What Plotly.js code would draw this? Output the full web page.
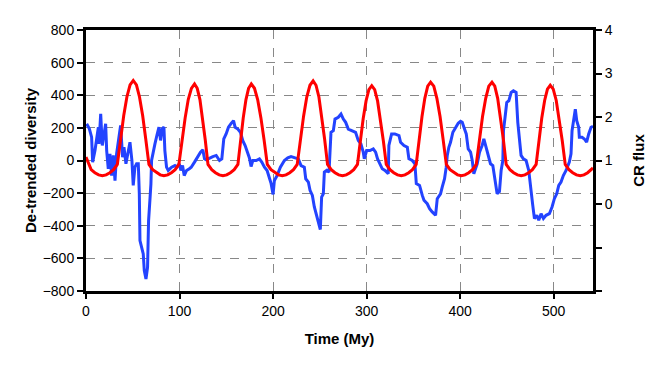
<!DOCTYPE html>
<html>
<head>
<meta charset="utf-8">
<script src="https://cdn.plot.ly/plotly-3.0.1.min.js"></script>
<style>
  body { margin: 0; background: #fff; }
  #chart { width: 664px; height: 369px; }
</style>
</head>
<body>
<div id="chart"></div>
<script>
// de-trended diversity (left axis)
var divTime = [0.7, 3.6, 6.0, 7.1, 9.6, 11.4, 13.2, 13.9, 15.7, 17.4, 19.2, 21.0, 22.1, 23.8, 25.6, 27.4, 29.2, 31.0, 32.7, 35.2,
  37.0, 39.1, 40.6, 42.7, 44.5, 47.0, 49.1, 50.5, 52.3, 54.1, 55.9, 57.0, 57.7, 59.4, 61.2, 62.3, 64.1, 65.8, 66.9, 68.3,
  69.4, 70.1, 71.9, 73.7, 76.2, 78.0, 79.7, 81.5, 83.3, 84.3, 86.1, 87.9, 91.5, 95.0, 96.8, 99.7, 101.4, 103.2, 105.0, 107.5,
  110.5, 112.5, 116.0, 119.6, 122.4, 124.9, 126.7, 128.5, 132.0, 135.6, 139.2, 142.7, 145.2, 147.3, 149.8, 152.3, 155.2, 157.7, 159.4, 162.3,
  165.1, 167.6, 170.1, 172.3, 174.7, 176.5, 178.3, 181.9, 185.4, 187.9, 190.8, 193.6, 196.1, 197.9, 200.0, 201.4, 204.3, 207.8, 212.1, 215.7,
  219.2, 222.1, 227.0, 229.9, 233.4, 234.9, 237.7, 239.5, 242.0, 244.1, 246.6, 249.1, 250.5, 251.9, 253.7, 254.8, 257.3, 259.8, 260.8, 261.9,
  264.4, 266.2, 269.7, 272.6, 275.1, 277.6, 280.4, 284.0, 288.2, 291.1, 293.9, 296.4, 297.5, 300.0, 303.5, 307.1, 309.6, 311.7, 314.2, 316.7,
  319.6, 323.1, 323.8, 326.7, 330.2, 334.6, 336.3, 339.9, 343.5, 345.2, 348.8, 351.6, 353.1, 356.6, 359.5, 361.3, 364.8, 367.3, 370.1, 373.7,
  375.5, 379.0, 380.8, 383.3, 385.1, 386.2, 387.9, 389.7, 392.2, 395.1, 397.9, 400.4, 402.2, 404.0, 406.5, 408.6, 411.1, 412.9, 414.6, 416.4,
  418.2, 420.7, 423.5, 425.3, 427.8, 429.9, 432.4, 434.9, 437.8, 439.5, 442.0, 443.8, 445.6, 446.3, 448.4, 449.8, 452.0, 454.5, 456.9, 459.8,
  461.6, 463.4, 465.1, 467.6, 470.5, 473.3, 475.8, 477.6, 479.4, 481.9, 484.0, 486.5, 489.0, 491.8, 495.4, 498.2, 500.7, 503.2, 505.4, 507.8,
  510.3, 513.2, 516.7, 518.5, 519.6, 522.1, 523.1, 524.6, 526.7, 527.4, 530.3, 532.8, 535.2, 537.4, 539.9, 542.0];
var diversity = [225, 194, 143, -10, 61, 143, 204, 102, 286, 92, 164, 225, 61, -51, 41, -92, 31, -123, 41, 133,
  215, 20, 82, -20, 41, 112, 0, -153, -41, -20, -20, -205, -491, -532, -573, -675, -726, -655, -368, -245,
  -143, 0, 61, 102, 164, 205, 123, 194, 205, 61, -41, -61, -41, -31, -41, -20, -61, -31, -92, -61,
  -50, -41, -10, 24, 51, 65, 10, 4, 16, 24, 31, 0, 10, 132, 163, 204, 228, 244, 204, 193,
  173, 122, 92, 51, 16, -37, 0, 0, 10, -10, -41, -61, -112, -142, -208, -122, -92, -41, 0, 16,
  24, 20, 10, -31, -41, -112, -132, -183, -214, -285, -346, -387, -423, -224, -204, -71, -61, -71, 41, 173,
  183, 254, 265, 285, 254, 234, 193, 183, 173, 122, 102, 51, 10, 61, 61, 71, 51, 10, -20, -51,
  -61, -81, 92, 163, 163, 153, 112, 92, 81, 10, 0, -20, -142, -153, -214, -244, -265, -295, -315, -336,
  -234, -204, -163, -112, -41, 31, 81, 112, 173, 204, 228, 240, 234, 204, 163, 71, 51, 0, -81, -51,
  -20, 51, 92, 132, 81, 41, -20, -31, -142, -204, -190, -61, 0, 183, 285, 356, 366, 417, 427, 417,
  234, 142, 31, 10, 0, -61, -204, -275, -356, -336, -366, -326, -356, -336, -326, -285, -234, -204, -153, -132,
  -92, -61, -10, 41, 183, 265, 315, 244, 204, 142, 142, 132, 112, 163, 204, 210];

// cosmic ray flux (right axis)
var crTime = [0, 2.5, 5.5, 9.5, 13.5, 17.5, 21.5, 25.5, 29.5,
  33.5, 36.9, 40.3, 43.7, 47.1, 50.5, 53.9, 57.2, 60.6, 63.9,
  67.3, 71.3, 75.3, 79.3, 83.3, 87.3, 91.3, 95.3,
  99.3, 102.6, 106.0, 109.3, 112.7, 116.0, 118.9, 121.8, 124.6, 127.5,
  130.4, 134.4, 138.4, 142.4, 146.4, 150.4, 154.4, 158.4,
  162.4, 165.3, 168.1, 171.0, 173.8, 176.7, 180.1, 183.5, 187.0, 190.4,
  193.8, 197.8, 201.8, 205.8, 209.8, 213.8, 217.8, 221.8,
  225.8, 229.2, 232.6, 236.0, 239.4, 242.8, 245.9, 249.0, 252.0, 255.1,
  258.2, 262.2, 266.2, 270.2, 274.2, 278.2, 282.2, 286.2,
  290.2, 293.3, 296.3, 299.4, 302.4, 305.5, 308.6, 311.7, 314.8, 317.9,
  321.0, 325.0, 329.0, 333.0, 337.0, 341.0, 345.0, 349.0,
  353.0, 356.1, 359.2, 362.2, 365.3, 368.4, 371.8, 375.1, 378.5, 381.8,
  385.2, 389.2, 393.2, 397.2, 401.2, 405.2, 409.2, 413.2,
  417.2, 420.6, 423.9, 427.3, 430.6, 434.0, 437.0, 440.1, 443.1, 446.2,
  449.2, 453.2, 457.2, 461.2, 465.2, 469.2, 473.2, 477.2,
  481.2, 484.2, 487.2, 490.3, 493.3, 496.3, 499.5, 502.7, 505.9, 509.1,
  512.3, 516.3, 520.3, 524.3, 528.3, 532.3, 536.3, 540.3, 542.0];
var crFlux = [1.08, 0.93, 0.79, 0.72, 0.67, 0.65, 0.67, 0.72, 0.79,
  0.91, 1.49, 2.03, 2.46, 2.74, 2.84, 2.74, 2.46, 2.03, 1.49,
  0.91, 0.79, 0.72, 0.67, 0.65, 0.67, 0.72, 0.79,
  0.91, 1.47, 1.98, 2.40, 2.66, 2.76, 2.66, 2.40, 1.98, 1.47,
  0.91, 0.79, 0.72, 0.67, 0.65, 0.67, 0.72, 0.79,
  0.91, 1.47, 1.98, 2.40, 2.66, 2.76, 2.66, 2.40, 1.98, 1.47,
  0.91, 0.79, 0.72, 0.67, 0.65, 0.67, 0.72, 0.79,
  0.91, 1.49, 2.02, 2.46, 2.73, 2.83, 2.73, 2.46, 2.02, 1.49,
  0.91, 0.79, 0.72, 0.67, 0.65, 0.67, 0.72, 0.79,
  0.91, 1.45, 1.96, 2.37, 2.63, 2.72, 2.63, 2.37, 1.96, 1.45,
  0.91, 0.79, 0.72, 0.67, 0.65, 0.67, 0.72, 0.79,
  0.91, 1.48, 2.01, 2.43, 2.71, 2.80, 2.71, 2.43, 2.01, 1.48,
  0.91, 0.79, 0.72, 0.67, 0.65, 0.67, 0.72, 0.79,
  0.91, 1.48, 2.01, 2.43, 2.71, 2.80, 2.71, 2.43, 2.01, 1.48,
  0.91, 0.79, 0.72, 0.67, 0.65, 0.67, 0.72, 0.79,
  0.91, 1.46, 1.97, 2.38, 2.64, 2.73, 2.64, 2.38, 1.97, 1.46,
  0.91, 0.79, 0.72, 0.67, 0.65, 0.67, 0.72, 0.79, 0.83];

var xTicks = [0, 100, 200, 300, 400, 500];
var crTicks = [-2, -1, 0, 1, 2, 3, 4];
var crLabels = ['', '', '0', '1', '2', '3', '4'];

var font = {family: 'Liberation Sans, Arial, sans-serif', size: 14, color: '#000'};
var titleFont = {family: 'Liberation Sans, Arial, sans-serif', size: 15, color: '#000', weight: 'bold'};

var diversityTrace = {
    x: divTime,
    y: diversity,
    mode: 'lines',
    type: 'scatter',
    line: {color: '#2343ff', width: 3},
    hoverinfo: 'skip'
};

var crTrace = {
    x: crTime,
    y: crFlux,
    yaxis: 'y2',
    mode: 'lines',
    type: 'scatter',
    line: {color: '#ff0000', width: 3},
    hoverinfo: 'skip'
};

var layout = {
    width: 664,
    height: 369,
    margin: {l: 86, r: 71, t: 30, b: 78},
    paper_bgcolor: '#fff',
    plot_bgcolor: '#fff',
    showlegend: false,
    font: font,
    xaxis: {
        range: [0, 542],
        tickvals: xTicks,
        ticks: 'outside', ticklen: 5, tickwidth: 2, tickcolor: '#000',
        showline: true, linewidth: 3, linecolor: '#000', mirror: true,
        showgrid: true, gridcolor: '#888', gridwidth: 1, griddash: 'dash',
        zeroline: false,
        title: {text: 'Time (My)', font: titleFont, standoff: 16}
    },
    yaxis: {
        range: [-800, 800],
        dtick: 200,
        ticks: 'outside', ticklen: 6, tickwidth: 2, tickcolor: '#000',
        showline: true, linewidth: 3, linecolor: '#000',
        showgrid: true, gridcolor: '#888', gridwidth: 1, griddash: 'dash',
        zeroline: false,
        title: {text: 'De-trended diversity', font: titleFont, standoff: 3}
    },
    yaxis2: {
        overlaying: 'y',
        side: 'right',
        range: [-2, 4],
        tickvals: crTicks,
        ticktext: crLabels,
        ticks: 'outside', ticklen: 6, tickwidth: 2, tickcolor: '#000',
        showline: true, linewidth: 3, linecolor: '#000',
        showgrid: false, zeroline: false,
        title: {text: 'CR flux', font: titleFont, standoff: 22}
    }
};

Plotly.newPlot('chart', [diversityTrace, crTrace], layout, {staticPlot: true, displayModeBar: false});
</script>
</body>
</html>
